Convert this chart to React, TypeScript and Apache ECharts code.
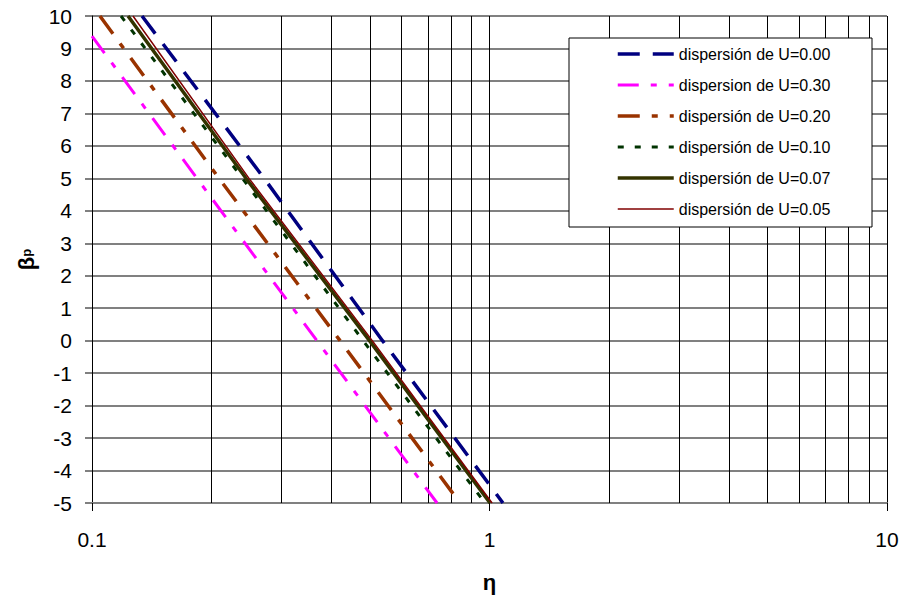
import React, { useEffect, useRef } from "react";
import * as echarts from "echarts";

const betaLevels = [10, 5, 0, -5];
const eta000 = [0.1336, 0.271, 0.538, 1.081];
const beta030 = [9.38, 5, 0, -5];
const eta030 = [0.1, 0.1837, 0.368, 0.738];
const eta020 = [0.1047, 0.2087, 0.4207, 0.843];
const eta010 = [0.1183, 0.239, 0.481, 0.974];
const eta007 = [0.1232, 0.244, 0.499, 1.003];
const eta005 = [0.1268, 0.2483, 0.507, 1.015];
const minorTicks = [0.2, 0.3, 0.4, 0.5, 0.6, 0.7, 0.8, 0.9, 2, 3, 4, 5, 6, 7, 8, 9];
const xTickLabels: Record<string, string> = { "0.1": "0.1", "1": "1", "10": "10" };
const seriesNames = [
  "dispersión de U=0.00",
  "dispersion de U=0.30",
  "dispersión de U=0.20",
  "dispersión de U=0.10",
  "dispersión de U=0.07",
  "dispersión de U=0.05",
];

const zip = (xs: number[], ys: number[]) => xs.map((x, i) => [x, ys[i]]);

export default function App() {
  const ref = useRef<HTMLDivElement>(null);
  useEffect(() => {
    if (!ref.current) return;
    const chart = echarts.init(ref.current, undefined, { renderer: "svg", width: 902, height: 598 });
    const font = "Liberation Sans";
    const styles = [
      { color: "#000080", width: 3.5, type: [22, 13] },
      { color: "#FF00FF", width: 3, type: [21, 12, 6, 12] },
      { color: "#993300", width: 3.5, type: [22, 12, 6, 12] },
      { color: "#003300", width: 3, type: [6, 11] },
      { color: "#333300", width: 3.5, type: "solid" },
      { color: "#800000", width: 1.5, type: "solid" },
    ];
    const datas = [
      zip(eta000, betaLevels),
      zip(eta030, beta030),
      zip(eta020, betaLevels),
      zip(eta010, betaLevels),
      zip(eta007, betaLevels),
      zip(eta005, betaLevels),
    ];
    const series: any[] = seriesNames.map((name, i) => ({
      name,
      type: "line",
      data: datas[i],
      symbol: "none",
      showSymbol: false,
      clip: true,
      z: 3,
      itemStyle: { color: styles[i].color },
      lineStyle: { color: styles[i].color, width: styles[i].width, type: styles[i].type },
    }));
    series[0].markLine = {
      silent: true,
      symbol: ["none", "none"],
      label: { show: false },
      animation: false,
      z: 1,
      lineStyle: { color: "#000", width: 1, type: "solid" },
      data: minorTicks.map((v) => ({ xAxis: v })),
    };
    chart.setOption({
      animation: false,
      backgroundColor: "#fff",
      grid: { left: 92, right: 15, top: 16, bottom: 85, containLabel: false },
      xAxis: {
        type: "log",
        logBase: 10,
        min: 0.1,
        max: 10,
        name: "η",
        nameLocation: "middle",
        nameGap: 68,
        nameTextStyle: { fontFamily: font, fontSize: 22, fontWeight: "bold", color: "#000" },
        axisLine: { show: true, onZero: false, lineStyle: { color: "#808080", width: 2 } },
        axisTick: { show: true, length: 8, lineStyle: { color: "#000", width: 1 } },
        axisLabel: {
          margin: 26,
          fontFamily: font,
          fontSize: 21,
          color: "#000",
          formatter: (v: number) => xTickLabels[String(Number(v.toPrecision(6)))] ?? "",
        },
        splitLine: { show: true, lineStyle: { color: "#000", width: 1 } },
      },
      yAxis: {
        type: "value",
        min: -5,
        max: 10,
        interval: 1,
        name: "{b|β}{s|p}",
        nameLocation: "middle",
        nameGap: 55,
        nameRotate: 90,
        nameTextStyle: {
          rich: {
            b: { fontFamily: font, fontSize: 22, fontWeight: "bold", color: "#000" },
            s: { fontFamily: font, fontSize: 13, fontWeight: "bold", color: "#000" },
          },
        },
        axisLine: { show: true, lineStyle: { color: "#000", width: 1 } },
        axisTick: { show: true, length: 7, lineStyle: { color: "#808080", width: 2 } },
        axisLabel: { margin: 20, fontFamily: font, fontSize: 21, color: "#000" },
        splitLine: { show: true, lineStyle: { color: "#808080", width: 2 } },
      },
      graphic: [
        {
          type: "rect",
          z: 50,
          shape: { x: 569, y: 38, width: 303, height: 189 },
          style: { fill: "#fff", stroke: "#000", lineWidth: 1 },
        },
      ],
      legend: {
        z: 60,
        orient: "vertical",
        left: 616,
        top: 46,
        padding: 0,
        itemWidth: 56,
        itemHeight: 14,
        itemGap: 15,
        itemStyle: { opacity: 0 },
        textStyle: { fontFamily: font, fontSize: 16, color: "#000", lineHeight: 16 },
        data: seriesNames.map((name, i) => ({
          name,
          itemStyle: { opacity: 0 },
          lineStyle: { width: styles[i].width, type: styles[i].type, color: styles[i].color, opacity: 1 },
        })),
      },
      series,
    });
    return () => chart.dispose();
  }, []);
  return <div ref={ref} style={{ width: 902, height: 598, position: "absolute", left: 0, top: 0 }} />;
}
